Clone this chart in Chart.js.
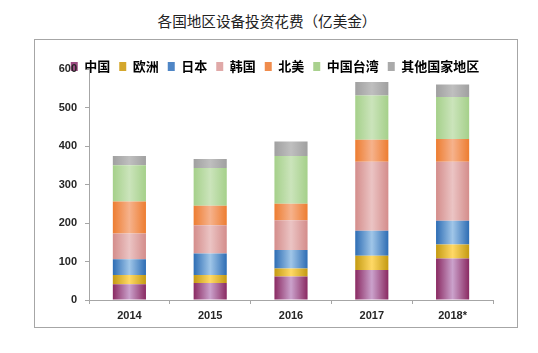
<!DOCTYPE html>
<html>
<head>
<meta charset="utf-8">
<script src="https://cdn.jsdelivr.net/npm/chart.js@4/dist/chart.umd.min.js"></script>
<style>
    body { margin: 0; background: #fff; }
    #title {
        position: absolute; left: 0; top: 11px; width: 534px;
        text-align: center; font: 14.6px/20px "Noto Sans CJK SC", sans-serif; color: #222;
    }
    #frame {
        position: absolute; left: 34px; top: 39px; width: 482px; height: 287px;
        border: 1px solid #a6a6a6;
    }
</style>
</head>
<body>
<div id="title">各国地区设备投资花费（亿美金）</div>
<div id="frame"><canvas id="investChart" width="482" height="287"></canvas></div>
<script>
const years = ['2014', '2015', '2016', '2017', '2018*'];
const seriesNames = ['中国', '欧洲', '日本', '韩国', '北美', '中国台湾', '其他国家地区'];

// values in 亿美金
const china = [41, 44, 61, 78, 108];
const europe = [24, 21, 21, 37, 36];
const japan = [41, 56, 48, 65, 62];
const korea = [67, 73, 77, 179, 153];
const northAmerica = [83, 51, 43, 57, 59];
const taiwan = [94, 98, 124, 115, 109];
const others = [24, 23, 38, 35, 33];

const yTicks = [0, 100, 200, 300, 400, 500, 600];

// edge colour, centre colour, legend swatch
const palette = [
    ['#8a2a62', '#cba2cc', '#9b4a80'],
    ['#c49a12', '#ffd966', '#d4a72c'],
    ['#2e6db4', '#a0c6e8', '#4f86c6'],
    ['#d48d8b', '#ebc4c4', '#e0a9a8'],
    ['#ed7d31', '#f6b28c', '#f08c4d'],
    ['#a5d08a', '#cbe4bb', '#a9d18e'],
    ['#a0a0a0', '#bfbfbf', '#aaaaaa']
];

const barPct = 0.41;
const legendOverlap = 14;

function barFill(i) {
    return function (context) {
        const chart = context.chart;
        const xs = chart.scales.x;
        if (!chart.chartArea || !xs || context.dataIndex === undefined) return palette[i][2];
        const cx = xs.getPixelForValue(context.dataIndex);
        const half = (xs.width / years.length) * barPct / 2;
        const g = chart.ctx.createLinearGradient(cx - half, 0, cx + half, 0);
        g.addColorStop(0, palette[i][0]);
        g.addColorStop(0.5, palette[i][1]);
        g.addColorStop(1, palette[i][0]);
        return g;
    };
}

const seriesValues = [china, europe, japan, korea, northAmerica, taiwan, others];

// legend sits partly over the top of the plot, like the original
const legendTweak = {
    id: 'legendTweak',
    beforeLayout(chart) {
        const legend = chart.legend;
        if (legend && !legend._tweaked) {
            legend._tweaked = true;
            const origFit = legend.fit;
            legend.fit = function () {
                origFit.call(this);
                this.height -= legendOverlap;
            };
        }
    },
    afterLayout(chart) {
        const legend = chart.legend;
        if (legend) {
            // give back the height so the labels are not clipped
            legend.bottom += legendOverlap;
            legend.height += legendOverlap;
            legend.left += 6;
            legend.right += 6;
        }
    }
};

const tickFont = { family: '"Liberation Sans", Arial, sans-serif', size: 11, weight: 'bold' };

new Chart(document.getElementById('investChart'), {
    type: 'bar',
    data: {
        labels: years,
        datasets: seriesNames.map((name, i) => ({
            label: name,
            data: seriesValues[i],
            backgroundColor: barFill(i),
            borderWidth: 0,
            barPercentage: 1,
            categoryPercentage: barPct
        }))
    },
    options: {
        responsive: false,
        animation: false,
        layout: { padding: { top: 11, left: 10, right: 24, bottom: 0 } },
        scales: {
            x: {
                stacked: true,
                afterFit: (scale) => { scale.height = 27; },
                grid: { drawOnChartArea: false, tickLength: 4, color: '#a6a6a6' },
                border: { color: '#a6a6a6' },
                ticks: { font: tickFont, color: '#262626', padding: 5 }
            },
            y: {
                stacked: true,
                min: 0,
                max: 600,
                afterBuildTicks: (scale) => { scale.ticks = yTicks.map(v => ({ value: v })); },
                afterFit: (scale) => { scale.width = 44; },
                grid: { drawOnChartArea: false, tickLength: 4, color: '#a6a6a6' },
                border: { color: '#a6a6a6' },
                ticks: { font: tickFont, color: '#262626', padding: 8 }
            }
        },
        plugins: {
            legend: {
                position: 'top',
                labels: {
                    boxWidth: 7,
                    boxHeight: 9,
                    padding: 9,
                    color: '#000',
                    font: { family: '"Noto Sans CJK SC", sans-serif', size: 13, weight: 'bold' },
                    generateLabels: (chart) => Chart.defaults.plugins.legend.labels.generateLabels(chart).map((item, i) => {
                        item.fillStyle = palette[i][2];
                        item.strokeStyle = palette[i][2];
                        item.lineWidth = 0;
                        return item;
                    })
                }
            },
            tooltip: { enabled: false }
        }
    },
    plugins: [legendTweak]
});
</script>
</body>
</html>
